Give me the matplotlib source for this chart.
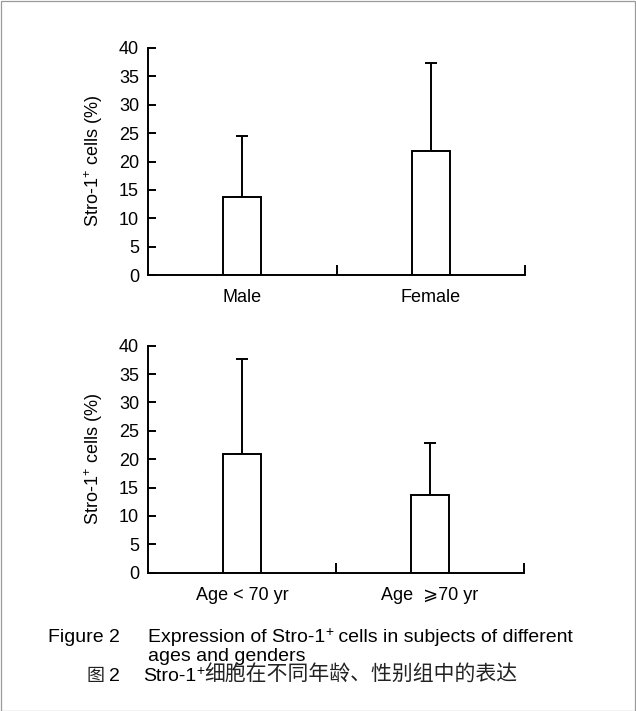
import matplotlib
matplotlib.use("Agg")
import matplotlib.pyplot as plt
from matplotlib.patches import Rectangle

plt.rcParams['font.family'] = ['Liberation Sans', 'Noto Sans CJK SC', 'DejaVu Sans']
plt.rcParams['mathtext.fontset'] = 'custom'
plt.rcParams['mathtext.rm'] = 'Liberation Sans'
plt.rcParams['mathtext.it'] = 'Liberation Sans'

# Data
gender_cats = ["Male", "Female"]
gender_means = [13.7, 21.9]
gender_sd = [10.8, 15.4]

age_cats = ["Age < 70 yr", "Age  \u2a7e70 yr"]
age_means = [21.0, 13.7]
age_sd = [16.7, 9.1]

yticks = [0, 5, 10, 15, 20, 25, 30, 35, 40]

W, H = 636, 711
fig = plt.figure(figsize=(W / 100, H / 100), dpi=100)
fig.patch.set_facecolor('white')
fig.patches.append(Rectangle((0.5 / W, 0.5 / H), 1 - 1.5 / W, 1 - 1.5 / H, transform=fig.transFigure,
                             fill=False, edgecolor='#9a9a9a', linewidth=0.9))

LW = 1.4
FS = 13


def panel(rect, cats, means, sd):
    ax = fig.add_axes(rect)
    pos = [0.5, 1.5]
    ax.bar(pos, means, width=0.2, color='white', edgecolor='black', linewidth=LW, zorder=2)
    ax.errorbar(pos, means, yerr=[[0, 0], sd], fmt='none', ecolor='black',
                elinewidth=LW, capsize=4, capthick=LW, zorder=1)
    ax.set_xlim(0, 2)
    ax.set_ylim(0, 40)
    ax.set_yticks(yticks)
    ax.set_yticklabels([str(t) for t in yticks], fontsize=FS)
    ax.set_xticks(pos)
    ax.set_xticklabels(cats, fontsize=FS)
    ax.tick_params(axis='x', which='major', length=0, pad=10)
    ax.set_xticks([1, 2], minor=True)
    ax.tick_params(axis='x', which='minor', direction='in', length=7, width=LW)
    ax.tick_params(axis='y', direction='in', length=6, width=LW, pad=6.5)
    for s in ['top', 'right']:
        ax.spines[s].set_visible(False)
    for s in ['left', 'bottom']:
        ax.spines[s].set_linewidth(LW)
    ax.set_ylabel("Stro-1$^{+}$ cells (%)", fontsize=FS, labelpad=10)
    return ax


panel([148 / W, 1 - 275 / H, 377 / W, 227 / H], gender_cats, gender_means, gender_sd)
panel([148 / W, 1 - 572.7 / H, 376 / W, 227 / H], age_cats, age_means, age_sd)

CF = 14
SUP = 10
fig.canvas.draw()
renderer = fig.canvas.get_renderer()


def chain(x, y, parts):
    """Draw pieces of text one after another; parts = (text, size, dy, family, color)."""
    for txt, size, dy, fam, col in parts:
        kw = dict(fontsize=size, va='baseline', ha='left', color=col)
        if fam:
            kw['family'] = fam
        t = fig.text(x / W, 1 - (y - dy) / H, txt, **kw)
        bb = t.get_window_extent(renderer=renderer)
        x = bb.x1


fig.text(48 / W, 1 - 642 / H, "Figure 2", fontsize=CF, va='baseline', ha='left')
chain(148, 642, [("Expression of Stro-1", CF, 0, None, 'black'),
                 ("+", SUP, 6, None, 'black'),
                 (" cells in subjects of different", CF, 0, None, 'black')])
fig.text(148 / W, 1 - 661 / H, "ages and genders", fontsize=CF, va='baseline', ha='left')
fig.text(86 / W, 1 - 681 / H, "图", fontsize=13, va='baseline', ha='left', family=['Noto Sans CJK SC'],
         color='#222222')
fig.text(109 / W, 1 - 681 / H, "2", fontsize=CF, va='baseline', ha='left')
chain(143, 681, [("Stro-1", CF, 0, None, 'black'),
                 ("+", SUP, 6, None, 'black'),
                 ("细胞在不同年龄、性别组中的表达", 15, 0, ['Noto Sans CJK SC'], '#222222')])

fig.savefig("out.png", dpi=100, facecolor='white')
